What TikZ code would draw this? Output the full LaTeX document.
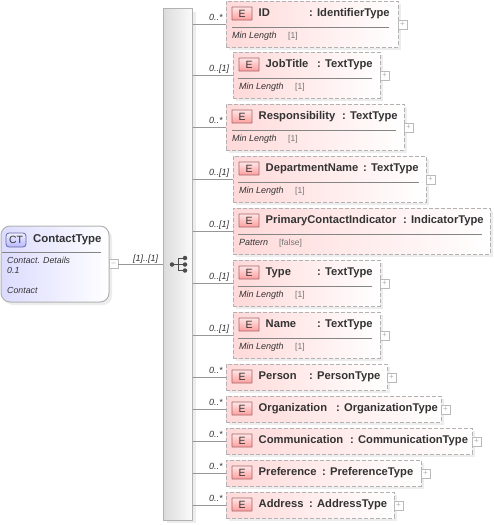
\documentclass[tikz,border=0pt]{standalone}
\usepackage{fontspec}
\setmainfont{Liberation Sans}
\definecolor{edge}{HTML}{B2B2B2}
\definecolor{txt}{HTML}{333333}
\definecolor{shd}{HTML}{EDEDED}
\definecolor{pinkl}{HTML}{FFD9D9}
\tikzset{
  x=1pt,y=-1pt,
  elembox/.style={draw=edge,dash pattern=on 4pt off 2pt,line width=1pt,left color=pinkl,right color=white,inner sep=0},
  conn/.style={draw=edge!85!black,line width=.8pt},
  plusbox/.style={draw=edge!90!white,fill=white,line width=.7pt,minimum width=9pt,minimum height=9pt,inner sep=0},
  iconE/.style={draw=red!40!black!60,line width=.8pt,top color=red!10!white,bottom color=red!38!white,minimum width=20pt,minimum height=13pt,inner sep=0,font=\fontsize{10.5}{11}\selectfont,text=txt,rounded corners=.3pt},
  ename/.style={font=\fontsize{11.2}{13}\selectfont\bfseries,text=txt,anchor=base west,inner sep=0},
  facet/.style={font=\fontsize{9}{10}\itshape\selectfont,text=black!80,anchor=base west,inner sep=0},
  fval/.style={font=\fontsize{8.5}{10}\selectfont,text=black!55,anchor=base west,inner sep=0},
  mult/.style={font=\fontsize{9}{11}\itshape\selectfont,text=txt,anchor=base west,inner sep=0},
  dotc/.style={circle,fill=black!70,inner sep=0,minimum size=4.5pt},
  frule/.style={draw=edge!75!black,line width=.7pt},
}
% #1 id, #2 x1, #3 y1, #4 x2, #5 y2, #6 name, #7 type x, #8 type, #9 multiplicity
\newcommand{\elemcore}[9]{%
  \fill[shd] (#2+3,#3+3) rectangle (#4+3,#5+3);
  \node[elembox,minimum width=#4-#2,minimum height=#5-#3] (#1) at ({(#2+#4)/2},{(#3+#5)/2}) {};
  \node[iconE] (#1e) at (#2+16,#3+12.5) {E};
  \node[ename] (#1n) at (#2+32.5,#3+15.5) {#6};
  \node[ename] (#1t) at (#7,#3+15.5) {: #8};
  \draw[conn] (bar.east |- #1.west) -- (#1.west);
  \node[mult] (#1m) at (209,{(#3+#5)/2-3.5}) {#9};
}
\newcommand{\plusat}[1]{%
  \node[plusbox] (#1p) at ([xshift=4pt,yshift=-0.5pt]#1.east) {\textcolor{edge}{\fontsize{8}{8}\selectfont +}};
}
\begin{document}
\begin{tikzpicture}
\useasboundingbox (0,0) rectangle (494,525);
% bar
\fill[shd] (167,12) rectangle (196,523);
\node[draw=edge,line width=1pt,left color=black!14,right color=black!2,minimum width=29pt,minimum height=512pt,inner sep=0] (bar) at (177.5,264) {};
% sequence icon
\node[dotc] (s0) at (172,264.5) {};
\node[dotc] (s1) at (185,258) {};
\node[dotc] (s2) at (185,264.5) {};
\node[dotc] (s3) at (185,270.5) {};
\coordinate (sj) at (178,264.5);
\draw[black!70,line width=1pt] (s0) -- (sj) (s2) -- (sj) (sj |- s1) -- (s1) (sj |- s3) -- (s3) (sj |- s1) -- (sj |- s3);
% contact type
\fill[shd,rounded corners=9pt] (4,229) rectangle (112,305);
\node[draw=edge,line width=1pt,rounded corners=9pt,left color=blue!14!white,right color=white,minimum width=108pt,minimum height=76pt,inner sep=0] (ct) at (55,264) {};
\node[draw=blue!40!black!60,line width=.8pt,rounded corners=3pt,top color=blue!6!white,bottom color=blue!28!white,minimum width=20pt,minimum height=14pt,inner sep=0,font=\fontsize{10.5}{11}\selectfont,text=txt] (cti) at (16,240) {CT};
\node[ename,font=\fontsize{11.4}{13}\selectfont\bfseries] (ctn) at (33,242) {ContactType};
\draw[frule] (2,252) -- (101,252);
\node[facet,font=\fontsize{8.8}{11}\itshape\selectfont] (ct1) at (7,263) {Contact. Details};
\node[facet,font=\fontsize{8.8}{11}\itshape\selectfont] (ct2) at (7,273) {0.1};
\node[facet,font=\fontsize{8.8}{11}\itshape\selectfont] (ct3) at (7,293) {Contact};
\node[plusbox] (ctp) at (113.5,264) {\textcolor{edge}{\fontsize{8}{8}\selectfont --}};
\draw[conn] (ctp.east) -- (bar.west |- ctp.east);
\node[mult] (ctm) at (133,261) {[1]..[1]};
% elements
\elemcore{id}{226}{1}{398}{47}{ID}{309}{IdentifierType}{0..*}\plusat{id}
\draw[frule] (232,27) -- (389,27);
\node[facet] (idf) at (232,38) {Min Length}; \node[fval] (idv) at (288,38) {[1]};
\elemcore{jt}{233}{52}{380}{98}{JobTitle}{317}{TextType}{0..[1]}\plusat{jt}
\draw[frule] (238,78) -- (372,78);
\node[facet] (jtf) at (239,89) {Min Length}; \node[fval] (jtv) at (295,89) {[1]};
\elemcore{re}{226}{104}{404}{150}{Responsibility}{342}{TextType}{0..*}\plusat{re}
\draw[frule] (232,130) -- (396,130);
\node[facet] (ref) at (232,141) {Min Length}; \node[fval] (rev) at (288,141) {[1]};
\elemcore{de}{233}{156}{426}{202}{DepartmentName}{363}{TextType}{0..[1]}\plusat{de}
\draw[frule] (238,182) -- (419,182);
\node[facet] (def) at (239,193) {Min Length}; \node[fval] (dev) at (295,193) {[1]};
\elemcore{pc}{233}{208}{490}{254}{PrimaryContactIndicator}{403}{IndicatorType}{0..[1]}
\draw[frule] (238,234) -- (482,234);
\node[facet] (pcf) at (239,245) {Pattern}; \node[fval] (pcv) at (279,245) {[false]};
\elemcore{ty}{233}{260}{380}{306}{Type}{317}{TextType}{0..[1]}\plusat{ty}
\draw[frule] (238,286) -- (372,286);
\node[facet] (tyf) at (239,297) {Min Length}; \node[fval] (tyv) at (295,297) {[1]};
\elemcore{na}{233}{312}{380}{358}{Name}{317}{TextType}{0..[1]}\plusat{na}
\draw[frule] (238,338) -- (372,338);
\node[facet] (naf) at (239,349) {Min Length}; \node[fval] (nav) at (295,349) {[1]};
\elemcore{pe}{226}{364}{387}{390}{Person}{309}{PersonType}{0..*}\plusat{pe}
\elemcore{or}{226}{396}{441}{422}{Organization}{336}{OrganizationType}{0..*}\plusat{or}
\elemcore{co}{226}{428}{472}{454}{Communication}{350}{CommunicationType}{0..*}\plusat{co}
\elemcore{pr}{226}{460}{421}{486}{Preference}{322}{PreferenceType}{0..*}\plusat{pr}
\elemcore{ad}{226}{492}{394}{518}{Address}{309}{AddressType}{0..*}\plusat{ad}
\end{tikzpicture}
\end{document}
